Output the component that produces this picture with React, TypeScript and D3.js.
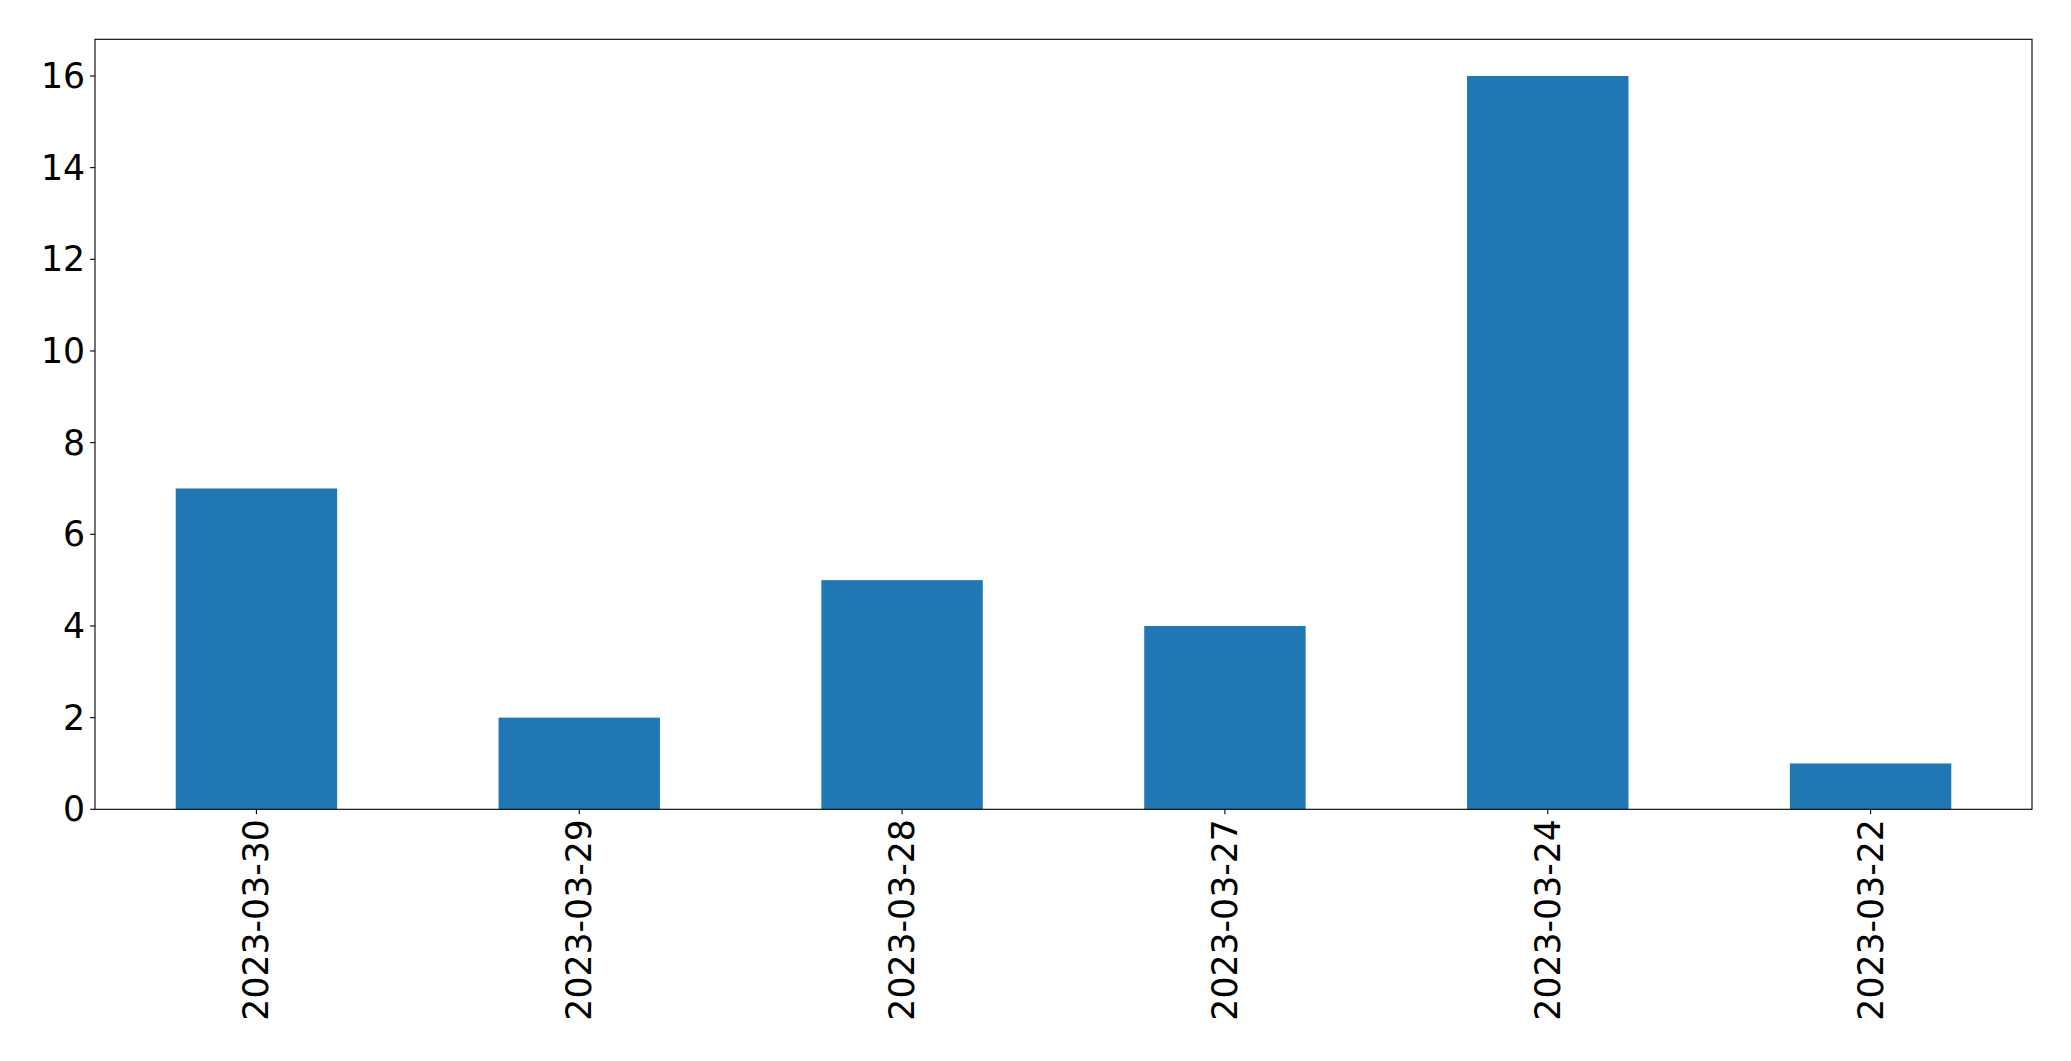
import React from "react";
import * as d3 from "d3";

const categories: string[] = ["2023-03-30", "2023-03-29", "2023-03-28", "2023-03-27", "2023-03-24", "2023-03-22"];
const values: number[] = [7, 2, 5, 4, 16, 1];
const yTicks: number[] = [0, 2, 4, 6, 8, 10, 12, 14, 16];

const W = 2071;
const H = 1061;
const margin = { left: 95, right: 39, top: 39.3, bottom: 251.7 };
const FONT = "'DejaVu Sans', sans-serif";
const FS = 34.7;
const TICK = 4.9;
const PAD = 4.9;

export default function App() {
  const x = d3
    .scaleBand<string>()
    .domain(categories)
    .range([margin.left, W - margin.right])
    .paddingInner(0.5)
    .paddingOuter(0.25);
  const yMax = d3.max(values)! * 1.05;
  const y = d3
    .scaleLinear()
    .domain([0, yMax])
    .range([H - margin.bottom, margin.top]);
  const x0 = margin.left;
  const x1 = W - margin.right;
  const y0 = H - margin.bottom;
  const y1 = margin.top;
  return (
    <svg
      width={W}
      height={H}
      style={{ position: "absolute", left: 0, top: 0, display: "block", background: "#fff" }}
    >
      <rect x={0} y={0} width={W} height={H} fill="#fff" />
      {categories.map((c, i) => (
        <rect
          key={c}
          x={x(c)!}
          y={y(values[i])}
          width={x.bandwidth()}
          height={y(0) - y(values[i])}
          fill="#1f77b4"
        />
      ))}
      <rect x={x0} y={y1} width={x1 - x0} height={y0 - y1} fill="none" stroke="#000" strokeWidth={1.1} />
      {yTicks.map((t) => (
        <g key={t}>
          <line x1={x0 - TICK} x2={x0} y1={y(t)} y2={y(t)} stroke="#000" strokeWidth={1.1} />
          <text
            x={x0 - TICK - PAD}
            y={y(t)}
            textAnchor="end"
            dominantBaseline="central"
            fontFamily={FONT}
            fontSize={FS}
            fill="#000"
          >
            {t}
          </text>
        </g>
      ))}
      {categories.map((c) => {
        const cx = x(c)! + x.bandwidth() / 2;
        const ty = y0 + TICK + PAD;
        return (
          <g key={c}>
            <line x1={cx} x2={cx} y1={y0} y2={y0 + TICK} stroke="#000" strokeWidth={1.1} />
            <text
              transform={`translate(${cx},${ty}) rotate(-90)`}
              textAnchor="end"
              dominantBaseline="central"
              fontFamily={FONT}
              fontSize={FS}
              fill="#000"
            >
              {c}
            </text>
          </g>
        );
      })}
    </svg>
  );
}
